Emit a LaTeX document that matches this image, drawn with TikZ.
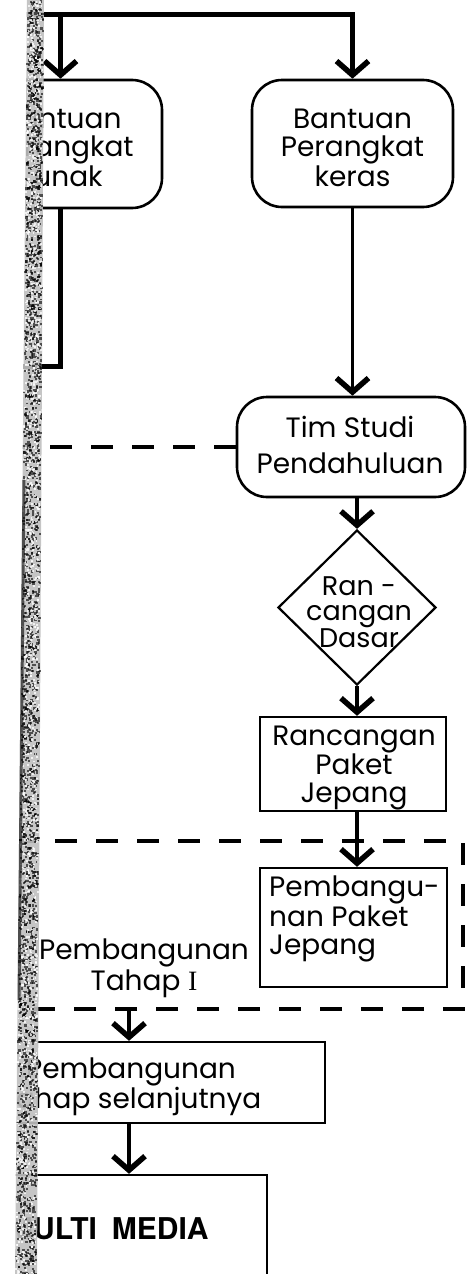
\documentclass[tikz,border=0pt]{standalone}
\usepackage{fontspec}
\setmainfont{Poppins}
\newfontfamily\headfont{TeX Gyre Heros}
\newfontfamily\serifface{Liberation Serif}
\usetikzlibrary{arrows.meta,shapes.geometric}

\newcommand\letterfont{\fontsize{28}{28}\selectfont}

\tikzset{
  x=1pt, y=-1pt,
  wire/.style={line width=4.3pt},
  flow/.style={line width=4.3pt, -{Straight Barb[length=14pt,width=32pt,line width=5.5pt]}},
  thinflow/.style={line width=3.2pt, -{Straight Barb[length=14pt,width=32pt,line width=5.5pt]}},
  roundbox/.style={draw, line width=2.6pt, rounded corners=30pt, align=center, font=\letterfont, inner sep=0pt},
  squarebox/.style={draw, line width=2.4pt, align=center, font=\letterfont, inner sep=0pt},
  caption/.style={align=center, font=\letterfont, inner sep=0pt},
  groupline/.style={line width=4pt, dash pattern=on 22pt off 19pt},
}

\begin{document}
\begin{tikzpicture}
\useasboundingbox (0,0) rectangle (467,1274);

% page content, cut off at the binding edge
\begin{scope}
  \clip (27.1,-10) -- (480,-10) -- (480,1290) -- (14.8,1290) -- cycle;

  \node[roundbox, minimum width=203pt, minimum height=128pt] (lunak) at (60.5,144) {};
  \node[caption] (lunakteks) at (62,148) {Bantuan\\Perangkat\\Lunak};
  \node[roundbox, minimum width=201pt, minimum height=127pt] (keras) at (352.5,143.5) {};
  \node[caption] (kerasteks) at (352.5,148) {Bantuan\\Perangkat\\keras};
  \node[roundbox, minimum width=228pt, minimum height=100pt] (tim) at (351,447) {};
  \node[caption, font=\fontsize{28}{36}\selectfont] (timteks) at (350,445) {Tim Studi\\Pendahuluan};
  \node[diamond, draw, line width=2.2pt, minimum width=158pt, minimum height=155pt, inner sep=0pt] (dasar) at (357,607.5) {};
  \node[caption, font=\fontsize{27}{25}\selectfont] (dasarteks) at (359,612) {Ran -\\cangan\\Dasar};
  \node[squarebox, minimum width=186pt, minimum height=94pt] (paket) at (353,764) {};
  \node[caption] (paketteks) at (354,768) {Rancangan\\Paket\\Jepang};
  \node[squarebox, minimum width=187pt, minimum height=119pt] (bangun) at (353.5,927.5) {};
  \node[caption, align=left, anchor=north west] (bangunteks) at (269,876) {Pembangu-\\nan Paket\\Jepang};
  \node[caption, font=\fontsize{28}{31}\selectfont] (tahap) at (144,968) {Pembangunan\\Tahap {\serifface I}};
  \node[squarebox, minimum width=392pt, minimum height=81pt] (lanjut) at (129,1082.5) {};
  \node[caption] (lanjutteks) at (131,1087) {Pembangunan\\Tahap selanjutnya};
  \node[draw, line width=2.4pt, minimum width=367pt, minimum height=145pt, inner sep=0pt] (multi) at (83.5,1247.5) {};
  \node[anchor=base west, font=\headfont\bfseries\fontsize{30}{30}\selectfont, inner sep=0pt] (multiteks) at (8,1239) {MULTI\hspace{15pt}MEDIA};

  \coordinate (topleft) at (10,14.5);
  \coordinate (lunakexit) at (10,366.5);
  \coordinate (timexit) at (10,447);
  \coordinate (gNW) at (14,841);
  \coordinate (gNE) at (463,841);
  \coordinate (gSE) at (463,1009);
  \coordinate (gSW) at (14,1009);

  \draw[flow] (topleft) -| (keras.north);
  \draw[flow] (topleft -| lunak.north) -- (lunak.north);
  \draw[wire] (lunak.south) |- (lunakexit);
  \draw[thinflow] (keras.south) -- (keras.south |- tim.north);
  \draw[groupline] (tim.west) -- (timexit);
  \draw[flow] (tim.south -| dasar.north) -- (dasar.north);
  \draw[flow] (dasar.south) -- (dasar.south |- paket.north);
  \draw[flow] (paket.south -| dasar.south) -- (dasar.south |- bangun.north);
  \draw[groupline] (gNW) -- (gNE) -- (gSE) -- (gSW);
  \draw[flow] (gSW -| lanjut.north) -- (lanjut.north);
  \draw[flow] (lanjut.south) -- (lanjut.south |- multi.north);
\end{scope}

% shaded binding strip along the left edge
\fill[gray!50, opacity=0.9] (27,-2) -- (44,-2) -- (37,1276) -- (15,1276) -- cycle;
\pgfmathsetseed{42}
\foreach \k in {1,...,2400}{
  \pgfmathsetmacro{\yy}{rnd*1274}
  \pgfmathsetmacro{\xx}{27-12*\yy/1274+rnd*(15+5*\yy/1274)}
  \fill[black, opacity=0.6] (\xx,\yy) rectangle ++(2.2,2.2);
}
\foreach \k in {1,...,1300}{
  \pgfmathsetmacro{\yy}{rnd*1274}
  \pgfmathsetmacro{\xx}{27-12*\yy/1274+rnd*(15+5*\yy/1274)}
  \fill[white, opacity=0.75] (\xx,\yy) rectangle ++(1.8,1.8);
}
\draw[black, line width=3pt, opacity=0.6] (24,480) -- (19,1000);
\end{tikzpicture}
\end{document}
